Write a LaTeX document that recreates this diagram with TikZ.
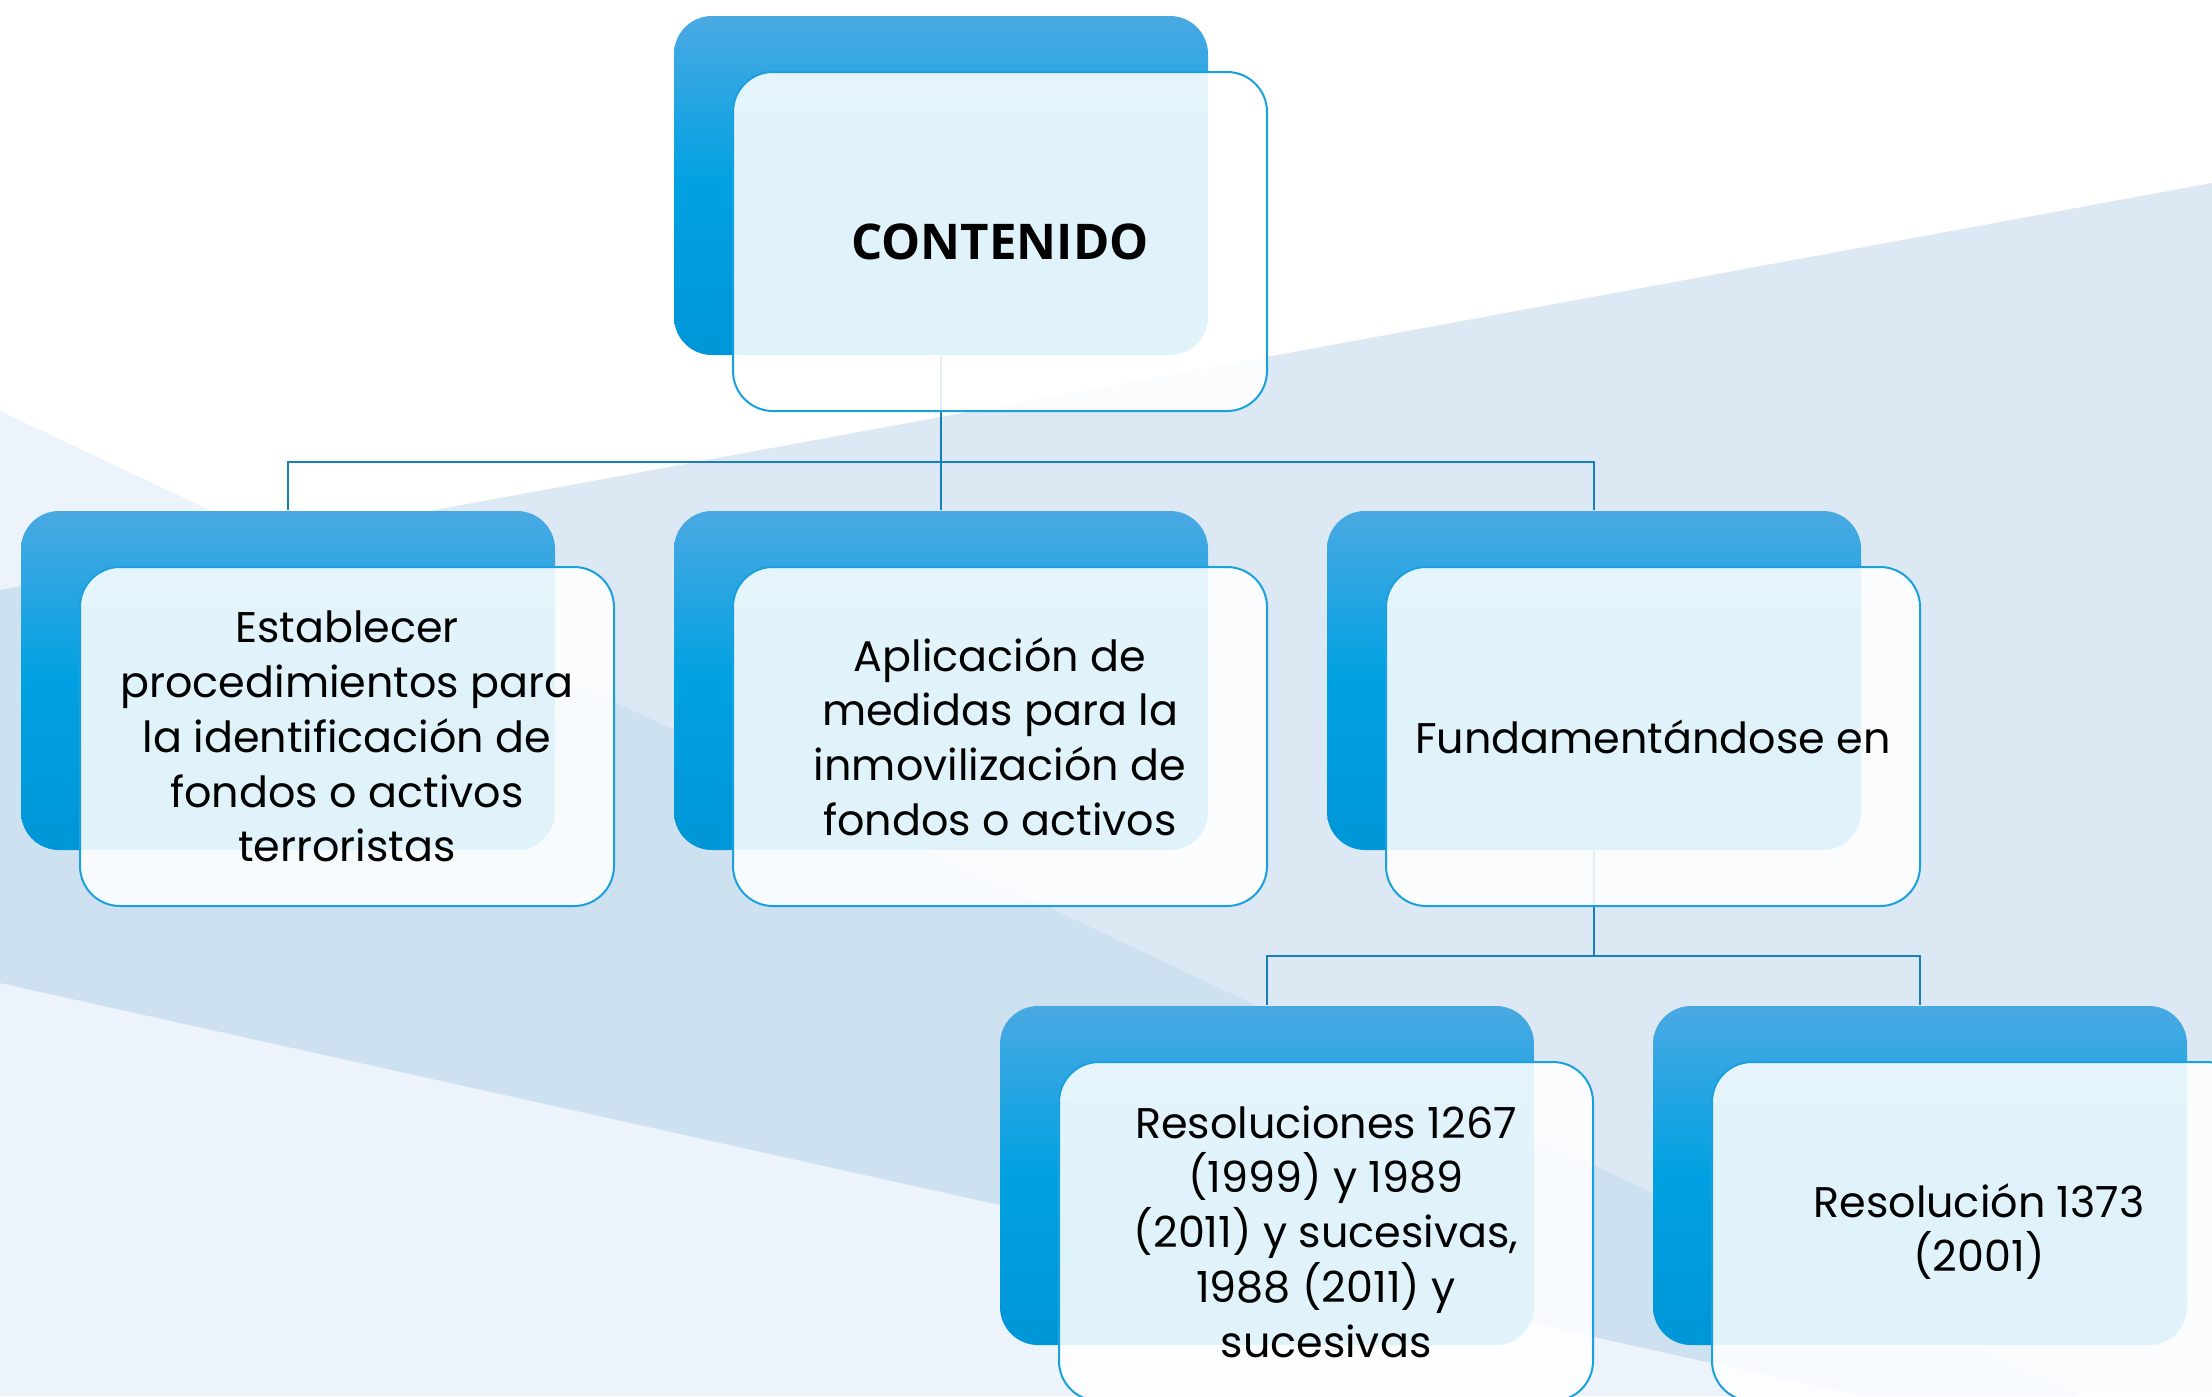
\documentclass[tikz,border=0pt]{standalone}
\usepackage{fontspec}
\setmainfont{Poppins}
\newfontfamily\headfont{Open Sans}

\definecolor{bgpale}{RGB}{236,243,250}
\definecolor{bglight}{RGB}{220,233,245}
\definecolor{bgmid}{RGB}{205,225,241}
\definecolor{boxtop}{RGB}{74,169,226}
\definecolor{boxmid}{RGB}{0,161,226}
\definecolor{boxbot}{RGB}{0,150,216}
\definecolor{rim}{RGB}{26,160,220}
\definecolor{wire}{RGB}{22,128,190}

\tikzset{
  backbox/.style={shade, top color=boxtop, bottom color=boxbot, middle color=boxmid,
    rounded corners=0.38cm, minimum width=5.34cm, minimum height=3.39cm, inner sep=0pt},
  frontbox/.style={draw=rim, line width=0.02cm, fill=white, fill opacity=0.88, text opacity=1,
    rounded corners=0.4cm, minimum width=5.34cm, minimum height=3.39cm, inner sep=0pt,
    align=center, font=\fontsize{12.2}{15.6}\selectfont},
  wirelink/.style={draw=wire, line width=0.02cm}
}

\begin{document}
\begin{tikzpicture}
    \useasboundingbox (0,0) rectangle (22.12,-13.96);
    \clip (0,0) rectangle (22.12,-13.96);
    % BACKGROUND
    \fill[white] (0,0) rectangle (22.12,-13.96);
    \fill[bgpale] (0,-4.11) -- (20.82,-13.96) -- (0,-13.96) -- cycle;
    \fill[bglight] (2.724,-5.399) -- (22.12,-1.83) -- (22.12,-13.96) -- (20.82,-13.96) -- cycle;
    \fill[bgmid] (0,-5.90) -- (2.724,-5.399) -- (20.82,-13.96) -- (18.60,-13.96) -- (0,-9.83) -- cycle;
    % BACK BOXES
    \node[backbox] (contB) at (9.41,-1.855) {};
    \node[backbox] (estB) at (2.88,-6.805) {};
    \node[backbox] (aplB) at (9.41,-6.805) {};
    \node[backbox] (fundB) at (15.94,-6.805) {};
    \node[backbox] (resaB) at (12.67,-11.755) {};
    \node[backbox] (resbB) at (19.20,-11.755) {};
    % CONNECTORS
    \coordinate (j1) at (9.41,-4.62);
    \draw[wirelink] (contB.south) -- (j1) -| (estB.north);
    \draw[wirelink] (j1) -- (aplB.north);
    \draw[wirelink] (j1) -| (fundB.north);
    \coordinate (j2) at (15.94,-9.56);
    \draw[wirelink] (fundB.south) -- (j2) -| (resaB.north);
    \draw[wirelink] (j2) -| (resbB.north);
    % FRONT BOXES
    \node[frontbox] (cont) at ([shift={(0.59,-0.56)}]contB.center)
        {\headfont\bfseries\fontsize{14}{17}\selectfont CONTENIDO};
    \node[frontbox] (est) at ([shift={(0.59,-0.56)}]estB.center)
        {Establecer\\procedimientos para\\la identificación de\\fondos o activos\\terroristas};
    \node[frontbox] (apl) at ([shift={(0.59,-0.56)}]aplB.center)
        {Aplicación de\\medidas para la\\inmovilización de\\fondos o activos};
    \node[frontbox] (fund) at ([shift={(0.59,-0.56)}]fundB.center)
        {Fundamentándose en};
    \node[frontbox] (resa) at ([shift={(0.59,-0.56)}]resaB.center)
        {Resoluciones 1267\\(1999) y 1989\\(2011) y sucesivas,\\1988 (2011) y\\sucesivas};
    \node[frontbox] (resb) at ([shift={(0.59,-0.56)}]resbB.center)
        {Resolución 1373\\(2001)};
\end{tikzpicture}
\end{document}
